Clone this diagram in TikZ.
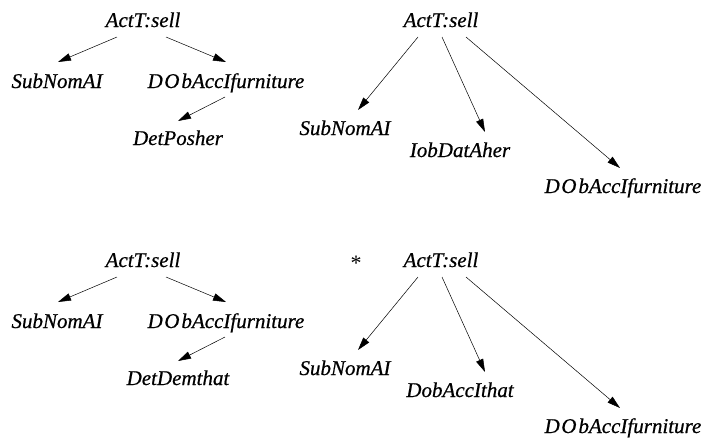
\documentclass[tikz,border=0pt]{standalone}
\usepackage{fontspec}
\setmainfont{Liberation Serif}[ItalicFeatures={FakeBold=0.6}]
\usetikzlibrary{arrows.meta}

\tikzset{
  lbl/.style={anchor=base, inner sep=0pt, font=\fontsize{21}{24}\selectfont\itshape},
  arr/.style={line width=0.5pt, -{Triangle[length=13pt,width=7.5pt]}},
}
\newcommand{\DOb}{D\kern1.5pt O\kern2pt bAccIfurniture}

\begin{document}
\begin{tikzpicture}[x=1pt,y=-1pt]
\useasboundingbox (0,0) rectangle (707,445);

% ---- upper left tree
\node[lbl] (rA) at (143,27) {ActT:sell};
\node[lbl] (sA) at (57,88) {SubNomAI};
\node[lbl] (dA) at (226,88) {\DOb};
\node[lbl] (pA) at (178,145) {DetPosher};
\draw[arr] ([shift={(-26,10)}]rA.base) -- ([shift={(1,-26)}]sA.base);
\draw[arr] ([shift={(23,10)}]rA.base) -- ([shift={(0,-26)}]dA.base);
\draw[arr] ([shift={(-1,9)}]dA.base) -- ([shift={(0,-24)}]pA.base);

% ---- upper right tree
\node[lbl] (rB) at (441,27) {ActT:sell};
\node[lbl] (sB) at (345,135) {SubNomAI};
\node[lbl] (iB) at (460,157) {IobDatAher};
\node[lbl] (dB) at (623,193) {\DOb};
\draw[arr] ([shift={(-23,10)}]rB.base) -- ([shift={(13,-25)}]sB.base);
\draw[arr] ([shift={(1,10)}]rB.base) -- ([shift={(25,-25)}]iB.base);
\draw[arr] ([shift={(25,10)}]rB.base) -- ([shift={(-3,-25)}]dB.base);

% ---- lower left tree
\begin{scope}[yshift=-240pt]
\node[lbl] (rC) at (143,27) {ActT:sell};
\node[lbl] (sC) at (57,88) {SubNomAI};
\node[lbl] (dC) at (226,88) {\DOb};
\node[lbl] (pC) at (178,145) {DetDemthat};
\draw[arr] ([shift={(-26,10)}]rC.base) -- ([shift={(1,-26)}]sC.base);
\draw[arr] ([shift={(23,10)}]rC.base) -- ([shift={(0,-26)}]dC.base);
\draw[arr] ([shift={(-1,9)}]dC.base) -- ([shift={(0,-24)}]pC.base);
\end{scope}

% ---- lower right tree (starred)
\begin{scope}[yshift=-240pt]
\node[lbl, font=\fontsize{22}{24}\selectfont] (star) at (356,30) {*};
\node[lbl] (rD) at (441,27) {ActT:sell};
\node[lbl] (sD) at (345,135) {SubNomAI};
\node[lbl] (iD) at (460,157) {DobAccIthat};
\node[lbl] (dD) at (623,193) {\DOb};
\draw[arr] ([shift={(-23,10)}]rD.base) -- ([shift={(13,-25)}]sD.base);
\draw[arr] ([shift={(1,10)}]rD.base) -- ([shift={(25,-25)}]iD.base);
\draw[arr] ([shift={(25,10)}]rD.base) -- ([shift={(-3,-25)}]dD.base);
\end{scope}
\end{tikzpicture}
\end{document}
